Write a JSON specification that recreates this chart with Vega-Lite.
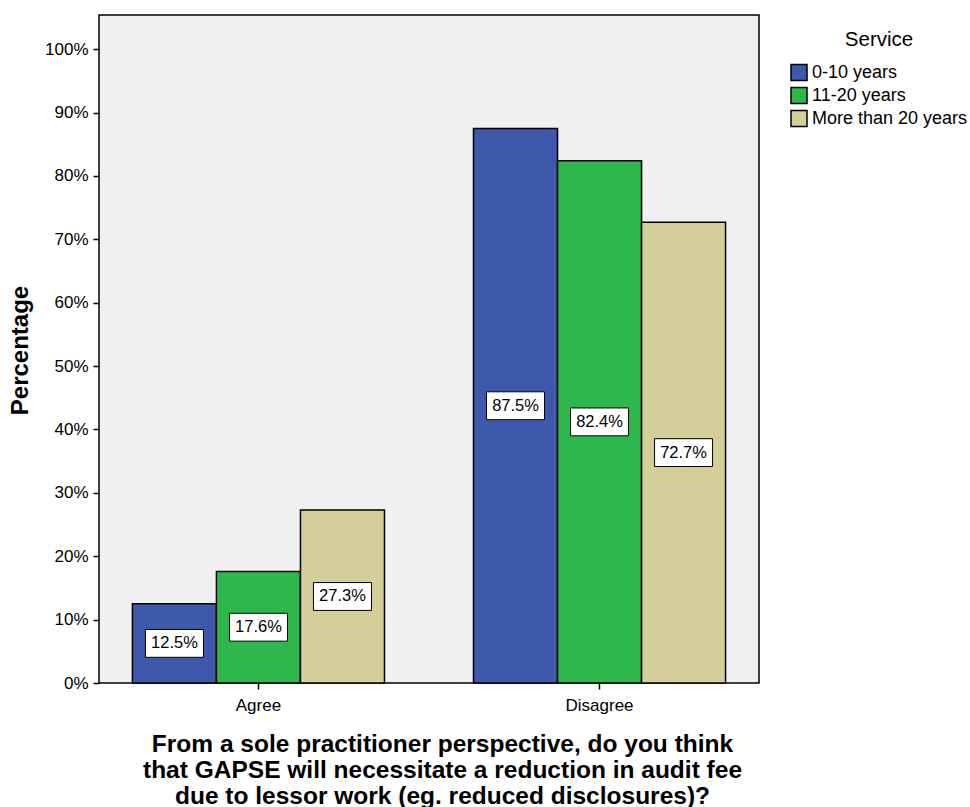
{
  "$schema": "https://vega.github.io/schema/vega-lite/v6.json",
  "width": 660,
  "height": 668,
  "autosize": "none",
  "padding": {"left": 99, "top": 15, "right": 211, "bottom": 124},
  "background": "white",
  "config": {
    "font": "Liberation Sans",
    "view": {"fill": "#f0f0f0", "stroke": "black", "strokeWidth": 1.5}
  },
  "data": {
    "values": [
      {"answer": "Agree", "service": "0-10 years", "pct": 12.5},
      {"answer": "Agree", "service": "11-20 years", "pct": 17.6},
      {"answer": "Agree", "service": "More than 20 years", "pct": 27.3},
      {"answer": "Disagree", "service": "0-10 years", "pct": 87.5},
      {"answer": "Disagree", "service": "11-20 years", "pct": 82.4},
      {"answer": "Disagree", "service": "More than 20 years", "pct": 72.7}
    ]
  },
  "transform": [
    {"calculate": "datum.pct / 2", "as": "mid"},
    {"calculate": "format(datum.pct, '.1f') + '%'", "as": "label"}
  ],
  "encoding": {
    "x": {
      "field": "answer",
      "type": "nominal",
      "scale": {"paddingInner": 0.261, "paddingOuter": 0.098},
      "axis": {
        "title": ["From a sole practitioner perspective, do you think", "that GAPSE will necessitate a reduction in audit fee", "due to lessor work  (eg. reduced disclosures)?"],
        "titleFont": "Liberation Sans",
        "titleFontSize": 24.5,
        "titleFontWeight": "bold",
        "titleColor": "black",
        "titleLineHeight": 26,
        "titleBaseline": "top",
        "titleAlign": "center",
        "titleX": 343,
        "titleY": 49,
        "labelAngle": 0,
        "labelFontSize": 17,
        "labelColor": "black",
        "labelPadding": 8,
        "domain": false,
        "ticks": true,
        "tickColor": "black",
        "tickSize": 6,
        "tickWidth": 1.5
      }
    },
    "xOffset": {
      "field": "service",
      "type": "nominal",
      "scale": {"paddingInner": 0, "paddingOuter": 0}
    }
  },
  "layer": [
    {
      "mark": {"type": "bar", "stroke": "black", "strokeWidth": 1.5},
      "encoding": {
        "y": {
          "field": "pct",
          "type": "quantitative",
          "scale": {"domain": [0, 105.4], "nice": false},
          "axis": {
            "values": [0, 10, 20, 30, 40, 50, 60, 70, 80, 90, 100],
            "labelExpr": "datum.value + '%'",
            "title": "Percentage",
            "titleFontSize": 24,
            "titleFontWeight": "bold",
            "titleColor": "black",
            "titleAngle": -90,
            "titleAlign": "center",
            "titleBaseline": "middle",
            "titleX": -79,
            "titleY": 335,
            "labelFontSize": 17,
            "labelColor": "black",
            "labelPadding": 5,
            "grid": false,
            "domain": false,
            "tickColor": "black",
            "tickSize": 6,
            "tickWidth": 1.5
          }
        },
        "color": {
          "field": "service",
          "type": "nominal",
          "scale": {
            "domain": ["0-10 years", "11-20 years", "More than 20 years"],
            "range": ["#3e58ab", "#2eb84b", "#d4cf99"]
          },
          "legend": {
            "title": "Service",
            "orient": "none",
            "legendX": 691,
            "legendY": 15,
            "titleFontSize": 20.5,
            "titleFontWeight": "normal",
            "titleColor": "black",
            "titleAnchor": "middle",
            "titlePadding": 13,
            "labelFontSize": 18,
            "labelColor": "black",
            "symbolType": "square",
            "symbolSize": 256,
            "symbolStrokeColor": "black",
            "symbolStrokeWidth": 1.5,
            "symbolOpacity": 1,
            "rowPadding": 1,
            "labelOffset": 4
          }
        }
      }
    },
    {
      "mark": {
        "type": "point",
        "shape": "M-1,-0.48H1V0.48H-1Z",
        "size": 3364,
        "filled": true,
        "fill": "white",
        "stroke": "black",
        "strokeWidth": 1,
        "opacity": 1
      },
      "encoding": {
        "y": {"field": "mid", "type": "quantitative"}
      }
    },
    {
      "mark": {"type": "text", "fontSize": 16.5, "color": "black", "baseline": "middle"},
      "encoding": {
        "y": {"field": "mid", "type": "quantitative"},
        "text": {"field": "label"}
      }
    }
  ]
}
